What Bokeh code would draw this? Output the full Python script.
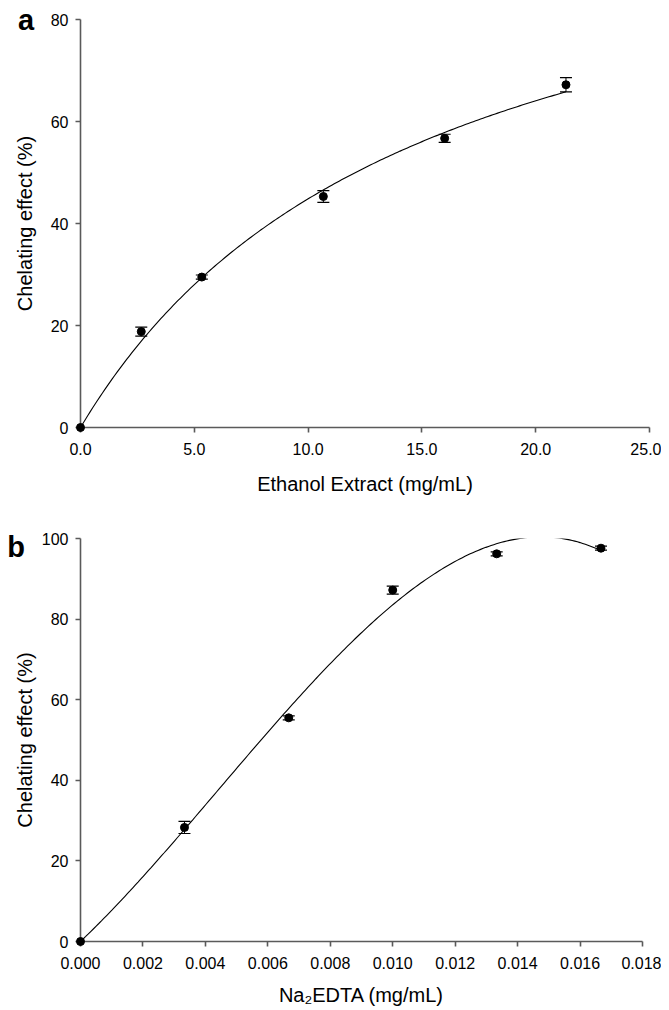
import numpy as np
from bokeh.plotting import figure
from bokeh.layouts import column
from bokeh.core.properties import value
from bokeh.models import (ColumnDataSource, Whisker, TeeHead, FixedTicker,
                          PrintfTickFormatter, Range1d)
from bokeh.embed import file_html
from bokeh.resources import INLINE

# ---- data ----
a_conc = [0.0, 2.67, 5.33, 10.67, 16.0, 21.33]
a_effect = [0.0, 18.8, 29.5, 45.3, 56.7, 67.2]
a_err = [0.0, 0.9, 0.4, 1.15, 0.8, 1.4]
a_xticks = [0, 5, 10, 15, 20, 25]
a_yticks = [0, 20, 40, 60, 80]

b_conc = [0.0, 0.00333, 0.00667, 0.01, 0.01333, 0.01667]
b_effect = [0.0, 28.3, 55.5, 87.2, 96.2, 97.6]
b_err = [0.0, 1.5, 0.5, 1.0, 0.5, 0.5]
b_xticks = [0, 0.002, 0.004, 0.006, 0.008, 0.010, 0.012, 0.014, 0.016, 0.018]
b_yticks = [0, 20, 40, 60, 80, 100]

FONT = "Liberation Sans"
AX = "#5a5a5a"


def hyperbola_fit(xs, ys):
    """least-squares fit of y = V*x/(K+x)"""
    x = np.asarray(xs, float)
    y = np.asarray(ys, float)
    best = None
    for K in np.linspace(1, 60, 5901):
        g = x / (K + x)
        V = (y * g).sum() / (g * g).sum()
        sse = ((y - V * g) ** 2).sum()
        if best is None or sse < best[0]:
            best = (sse, V, K)
    _, V, K = best
    fx = np.linspace(0, x.max(), 200)
    return fx, V * fx / (K + fx)


def cubic0_fit(xs, ys):
    """least-squares cubic through the origin"""
    x = np.asarray(xs, float)
    y = np.asarray(ys, float)
    A = np.column_stack([x, x ** 2, x ** 3])
    c, *_ = np.linalg.lstsq(A, y, rcond=None)
    fx = np.linspace(0, x.max(), 200)
    return fx, c[0] * fx + c[1] * fx ** 2 + c[2] * fx ** 3


def make_panel(xs, ys, errs, fit, xticks, yticks, xfmt, xlabel, letter, lpos,
               frame_w, frame_h, bl, bt, br, bb, xstand, ystand):
    p = figure(frame_width=frame_w, frame_height=frame_h,
               output_backend="svg", toolbar_location=None,
               x_range=Range1d(xticks[0], xticks[-1]),
               y_range=Range1d(yticks[0], yticks[-1]),
               min_border_left=bl, min_border_top=bt,
               min_border_right=br, min_border_bottom=bb)
    p.outline_line_color = None
    p.grid.visible = False
    p.background_fill_color = "white"
    p.border_fill_color = "white"

    for ax in (p.xaxis[0], p.yaxis[0]):
        ax.axis_line_color = AX
        ax.axis_line_width = 1.6
        ax.major_tick_line_color = AX
        ax.major_tick_line_width = 1.6
        ax.major_tick_out = 5
        ax.major_tick_in = 0
        ax.minor_tick_line_color = None
        ax.major_label_text_font = FONT
        ax.major_label_text_font_size = "16px"
        ax.major_label_text_color = "black"
        ax.axis_label_text_font = FONT
        ax.axis_label_text_font_size = "20px"
        ax.axis_label_text_font_style = "normal"
        ax.axis_label_text_color = "black"

    p.xaxis.ticker = FixedTicker(ticks=xticks)
    p.xaxis.formatter = PrintfTickFormatter(format=xfmt)
    p.xaxis.major_label_standoff = 10
    p.xaxis.axis_label = xlabel
    p.xaxis.axis_label_standoff = xstand

    p.yaxis.ticker = FixedTicker(ticks=yticks)
    p.yaxis.formatter = PrintfTickFormatter(format="%d")
    p.yaxis.major_label_standoff = 7
    p.yaxis.axis_label = "Chelating effect (%)"
    p.yaxis.axis_label_standoff = ystand

    fx, fy = fit(xs, ys)
    p.line(fx, fy, line_color="black", line_width=1.1)

    lower = [y - e for y, e in zip(ys, errs)]
    upper = [y + e for y, e in zip(ys, errs)]
    src = ColumnDataSource(dict(x=xs, y=ys, lower=lower, upper=upper))
    w = Whisker(source=src, base="x", lower="lower", upper="upper",
                line_color="black", line_width=1,
                upper_head=TeeHead(size=12, line_color="black", line_width=1.2),
                lower_head=TeeHead(size=12, line_color="black", line_width=1.2))
    p.add_layout(w)
    p.scatter("x", "y", source=src, size=8, marker="circle",
              fill_color="black", line_color="black", level="overlay")

    # panel letter (drawn as an unclipped overlay text glyph)
    p.text(x=[lpos[0]], y=[lpos[1]], text=[letter], text_font=value(FONT),
           text_font_size="29px", text_font_style="bold", text_color="black",
           text_align="left", text_baseline="middle", level="overlay")
    return p


pa = make_panel(a_conc, a_effect, a_err, hyperbola_fit, a_xticks, a_yticks, "%.1f",
                "Ethanol Extract (mg/mL)", "a", (-2.75, 79.9),
                569, 408, 72, 19, 20, 76, 15, 12)
pb = make_panel(b_conc, b_effect, b_err, cubic0_fit, b_xticks, b_yticks, "%.3f",
                "Na\u2082EDTA (mg/mL)", "b", (-0.00235, 97.8),
                562, 403, 80, 35, 19, 67, 12, 3)

layout = column(pa, pb, spacing=0)
open("out.html", "w").write(file_html(layout, INLINE))
